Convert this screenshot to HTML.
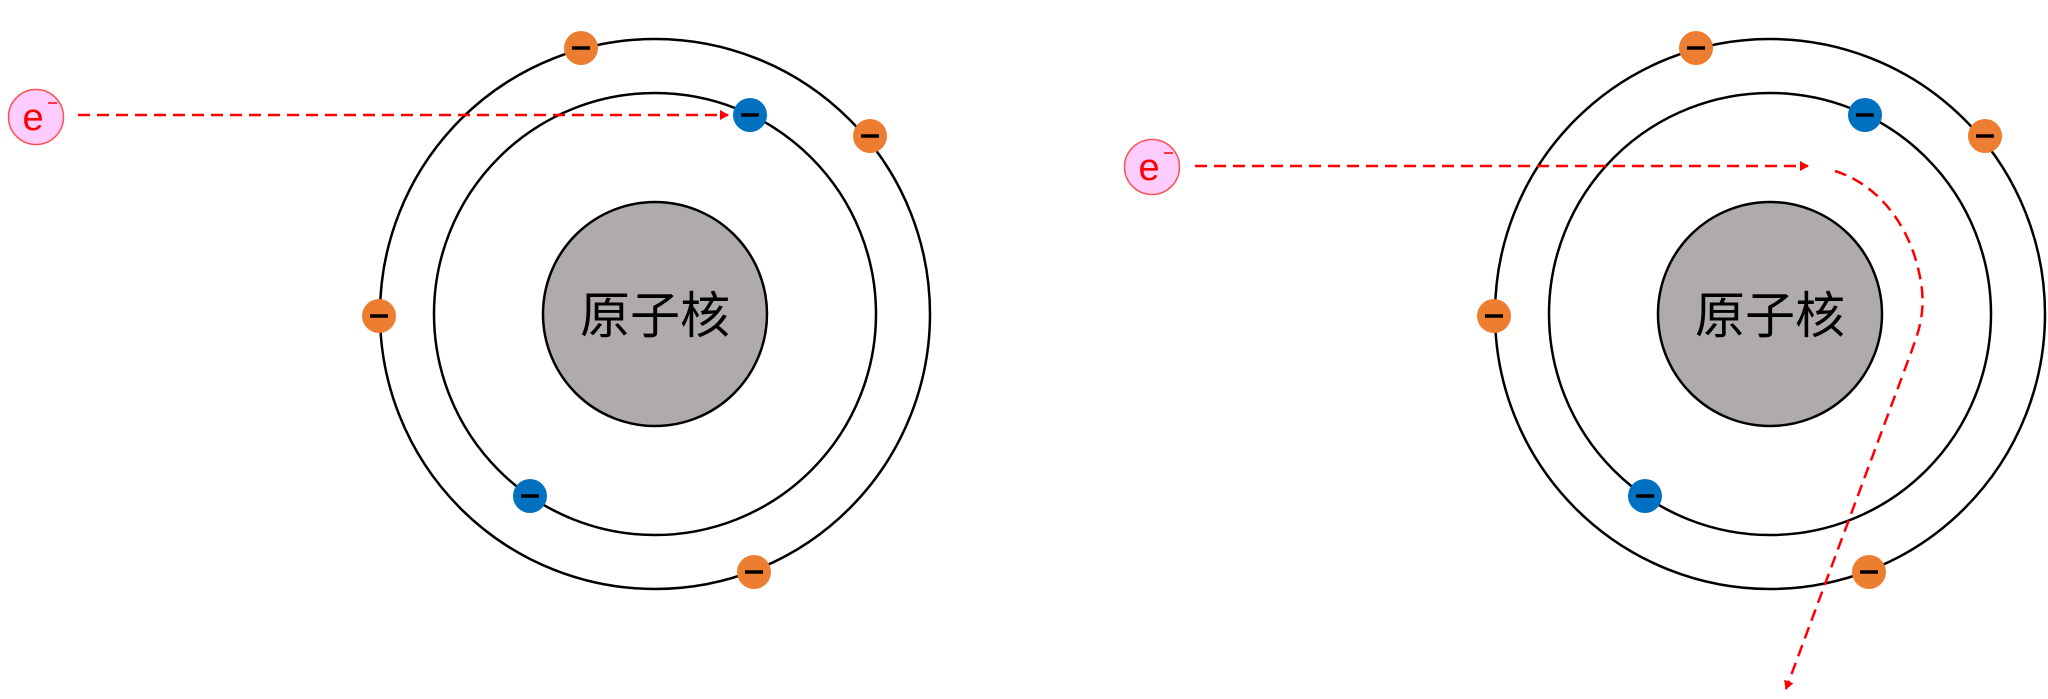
<!DOCTYPE html>
<html><head><meta charset="utf-8"><style>
html,body{margin:0;padding:0;background:#fff;width:2048px;height:699px;overflow:hidden}
</style></head><body>
<svg width="2048" height="699" viewBox="0 0 2048 699" xmlns="http://www.w3.org/2000/svg">
<defs>
<marker id="ah" markerWidth="10" markerHeight="10" refX="8" refY="5" orient="auto" markerUnits="userSpaceOnUse">
<path d="M0,0 L9,5 L0,10 z" fill="#f00"/>
</marker>
<g id="atom">
<circle cx="0" cy="0" r="275" fill="none" stroke="#000" stroke-width="2.5"/>
<circle cx="0" cy="0" r="221" fill="none" stroke="#000" stroke-width="2.5"/>
<circle cx="0" cy="0" r="112" fill="#AFABAB" stroke="#000" stroke-width="2.5"/>
<text x="0" y="19" text-anchor="middle" font-family="'Noto Sans CJK SC','WenQuanYi Zen Hei',sans-serif" font-size="50" fill="#000">原子核</text>
<g fill="#ED7D31">
<circle cx="-74" cy="-266" r="17"/><circle cx="215" cy="-178" r="17"/><circle cx="-276" cy="2" r="17"/><circle cx="99" cy="258" r="17"/>
</g>
<g fill="#0070C0">
<circle cx="95" cy="-199" r="17"/><circle cx="-125" cy="182" r="17"/>
</g>
<g stroke="#000" stroke-width="3.5">
<line x1="-83" y1="-266" x2="-65" y2="-266"/><line x1="206" y1="-178" x2="224" y2="-178"/><line x1="-285" y1="2" x2="-267" y2="2"/><line x1="90" y1="258" x2="108" y2="258"/>
<line x1="86" y1="-199" x2="104" y2="-199"/><line x1="-134" y1="182" x2="-116" y2="182"/>
</g>
</g>
<g id="elec">
<circle cx="0" cy="0" r="27.5" fill="#FFCCFF" stroke="#FF5050" stroke-width="1.5"/>
<text x="-3" y="13" text-anchor="middle" font-family="'Liberation Sans',sans-serif" font-size="38" fill="#f00">e</text>
<line x1="12" y1="-14" x2="21" y2="-14" stroke="#f00" stroke-width="1.5"/>
</g>
</defs>
<use href="#atom" x="655" y="314"/>
<use href="#atom" x="1770" y="314"/>
<use href="#elec" x="36" y="117"/>
<use href="#elec" x="1152" y="167"/>
<g fill="none" stroke="#f00" stroke-width="2.5" stroke-dasharray="12,7">
<line x1="78" y1="115" x2="728" y2="115" marker-end="url(#ah)"/>
<line x1="1195" y1="166" x2="1808" y2="166" marker-end="url(#ah)"/>
<path d="M1835,171 C1880,185 1915,230 1922,290 C1925,320 1915,340 1912,350 L1786,689" marker-end="url(#ah)"/>
</g>
</svg>
</body></html>
